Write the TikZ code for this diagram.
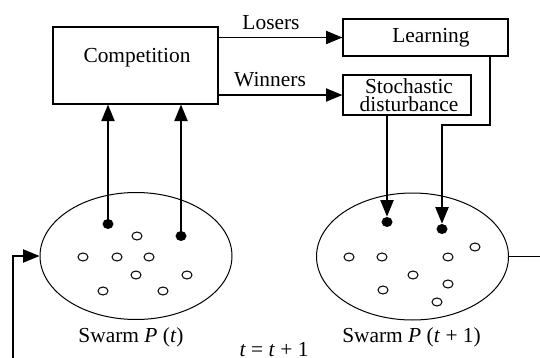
\documentclass[tikz,border=0pt]{standalone}
\usepackage{fontspec}
\setmainfont{Liberation Serif}
\usetikzlibrary{arrows.meta,shapes.geometric}
\begin{document}
\begin{tikzpicture}[x=0.5pt,y=-0.5pt,
  box/.style={draw,line width=0.6pt,rectangle,inner sep=0pt},
  lbl/.style={inner sep=0pt,font=\fontsize{10.7}{12}\selectfont},
  link/.style={line width=0.65pt,-{Triangle[length=8.2pt,width=6.6pt]}},
  plain/.style={line width=0.65pt},
  swarm/.style={draw,ellipse,line width=0.5pt,minimum width=96pt,minimum height=63.5pt,inner sep=0pt},
  best/.style={fill=black,ellipse,inner sep=0pt,minimum width=5.5pt,minimum height=5pt},
  member/.style={draw,ellipse,line width=0.5pt,inner sep=0pt,minimum width=5pt,minimum height=4pt}]

\useasboundingbox (0,0) rectangle (540,358);

% operator boxes
\node[box,minimum width=82.5pt,minimum height=38.5pt] (comp) at (135.5,65.5) {};
\node[lbl] (comptext) at (137,58) {Competition};
\node[box,minimum width=82.5pt,minimum height=18.5pt] (learn) at (425.5,37.5) {};
\node[lbl] (learntext) at (431,38) {Learning};
\node[box,minimum width=64pt,minimum height=20pt] (stoch) at (407,95) {};
\node[lbl,align=center,font=\fontsize{10.7}{8.9}\selectfont] (stochtext) at (409,95) {Stochastic\\disturbance};

% outcome of the competition
\node[lbl] (losers) at (271,23) {Losers};
\node[lbl] (winners) at (270,80) {Winners};
\draw[link] (comp.east |- learn.west) -- (learn.west);
\draw[link] (comp.east |- stoch.west) -- (stoch.west);

% the two swarms
\node[swarm] (sw1) at (136,256) {};
\node[swarm] (sw2) at (412.5,256.5) {};
\node[lbl] (lab1) at (131,337) {Swarm \textit{P} (\textit{t})};
\node[lbl] (lab2) at (411.5,337) {Swarm \textit{P} (\textit{t} + 1)};
\node[lbl] (iter) at (274,350) {\textit{t} = \textit{t} + 1};

% selected particles
\node[best] (b1) at (108,224) {};
\node[best] (b2) at (181,236) {};
\node[best] (b3) at (387,222) {};
\node[best] (b4) at (442,229) {};

% remaining particles of P(t)
\foreach \px/\py [count=\i] in {137/236, 83/257, 117/257, 149/257, 136/275, 187/275, 103/291, 163/291}
  \node[member] (p\i) at (\px,\py) {};
% remaining particles of P(t+1)
\foreach \px/\py [count=\i] in {349/257, 382/257, 448/257, 475/247, 413/275, 448/284, 383/290, 437/302}
  \node[member] (q\i) at (\px,\py) {};

% pairs sent to the competition
\draw[link] (b1.center) -- (b1 |- comp.south);
\draw[link] (b2.center) -- (b2 |- comp.south);

% updated particles back into the new swarm
\draw[link] (stoch.south -| b3) -- (b3.north);
\coordinate (lturn) at (490,125);
\draw[link] (learn.south -| lturn) -- (lturn) -- (lturn -| b4) -- (b4.north);

% iteration loop
\coordinate (outR) at (540,256.5);
\coordinate (inL) at (13,358);
\draw[plain] (sw2.east) -- (outR);
\draw[link] (inL) |- (sw1.west);
\end{tikzpicture}
\end{document}
